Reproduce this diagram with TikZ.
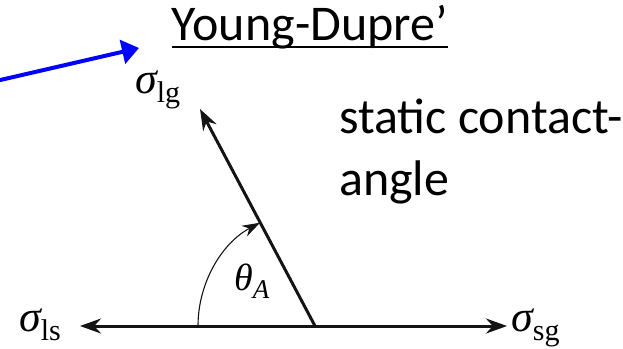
\documentclass[tikz,border=0pt]{standalone}
\usepackage{fontspec}
\setmainfont{Carlito}
\newfontfamily\serifsub{Liberation Serif}
\usetikzlibrary{arrows.meta,positioning}
\definecolor{ydblue}{RGB}{0,0,255}
\definecolor{ydink}{RGB}{20,20,20}
\newcommand{\sig}[1]{{\itshape σ}\raisebox{-0.22em}{\fontsize{30}{30}\selectfont #1}}

\begin{document}
\begin{tikzpicture}[
  x=1pt, y=-1pt,
  vec/.style={-{Stealth[length=21pt,width=15pt]}, ydink, line width=3pt},
  ptr/.style={-{Triangle[length=17pt,width=24pt]}, ydblue, line width=4pt},
  swing/.style={-{Stealth[length=18pt,width=12pt]}, ydink, line width=1.1pt},
  lbl/.style={inner sep=0pt, anchor=base west, font=\serifsub\fontsize{44}{50}\selectfont},
  note/.style={inner sep=0pt, font=\fontsize{50}{62}\selectfont, align=left}
]
\useasboundingbox (0,0) rectangle (623,348);

% contact point and vector ends
\coordinate (O) at (315,326);
\coordinate (tlg) at (200,109);
\coordinate (tls) at (80,326);
\coordinate (tsg) at (507,326);
\coordinate (arcstart) at (198,326);

\node[lbl] (slg) at (135,93) {\sig{lg}};
\node[lbl] (sls) at (19,331) {\sig{ls}};
\node[lbl] (ssg) at (511,331) {\sig{sg}};
\node[lbl, font=\serifsub\fontsize{38}{44}\selectfont] (theta) at (234,290)
  {{\itshape θ}\raisebox{-0.22em}{\fontsize{27}{27}\selectfont\itshape A}};

\node[note, anchor=base east] (title) at (448,40) {Young-Dupre’};
\node[note, anchor=base west] (angnote) at (339,195) {static contact-\\angle};

\draw[line width=2.5pt] ([yshift=-7pt]title.base west) -- ([yshift=-7pt]title.base east);

\draw[vec] (O) -- (tlg);
\draw[vec] (O) -- (tls);
\draw[vec] (O) -- (tsg);
\draw[swing] (arcstart) arc[start angle=180, end angle=242, radius=117];

% pointer from the left
\coordinate (bstart) at (-4,81);
\coordinate (btip) at (139,48);
\draw[ptr] (bstart) -- (btip);
\end{tikzpicture}
\end{document}
